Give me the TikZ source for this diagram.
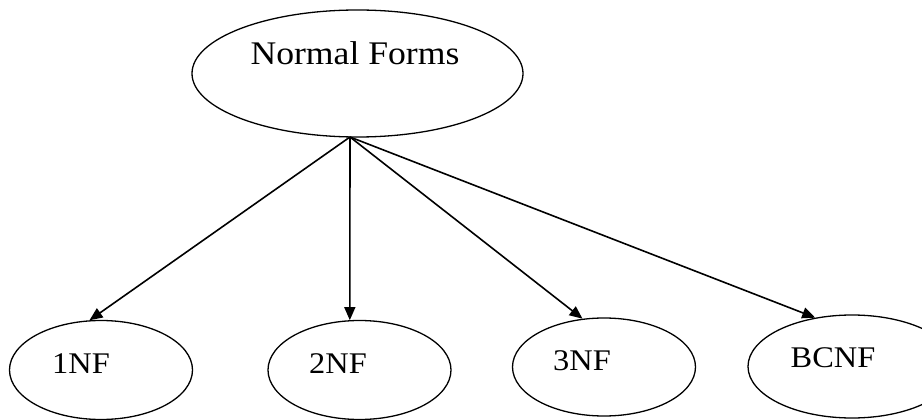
\documentclass[tikz,border=0pt]{standalone}
\usepackage{fontspec}
\setmainfont{Liberation Serif}[FakeStretch=1.08]
\usetikzlibrary{shapes.geometric,arrows.meta}
\begin{document}
\begin{tikzpicture}[x=1pt,y=-1pt,
  oval/.style={draw, ellipse, line width=1.3pt, inner sep=0pt},
  small/.style={oval, minimum width=183pt, minimum height=99pt},
  lab/.style={anchor=base, inner sep=0pt, font=\fontsize{30}{30}\selectfont},
  biglab/.style={anchor=base, inner sep=0pt, font=\fontsize{33}{33}\selectfont},
  link/.style={line width=1.6pt, -{Triangle[length=13pt,width=11pt]}}]
\clip (0,0) rectangle (922,420);
\fill[white] (0,0) rectangle (922,420);
% top ellipse
\node[oval, minimum width=331pt, minimum height=127pt] (top) at (357.5,73.5) {};
\node[biglab] (ttop) at (355,65) {Normal Forms};
\coordinate (apex) at (350,137);
% lower ellipses
\node[small] (n1) at (101,370) {};
\node[small] (n2) at (359.5,370) {};
\node[small, minimum height=98pt] (n3) at (604,367) {};
\node[oval, minimum width=208pt, minimum height=103pt] (n4) at (852,366.5) {};
\node[lab] (t1) at (81,373) {1NF};
\node[lab] (t2) at (338,373) {2NF};
\node[lab] (t3) at (582,370) {3NF};
\node[lab] (t4) at (833,367) {BCNF};
% connectors
\draw[link] (apex) -- (n1.103);
\draw[link] (apex) -- (n2.101);
\draw[link] (apex) -- (n3.114);
\draw[link] (apex) -- (n4.127);
\end{tikzpicture}
\end{document}
